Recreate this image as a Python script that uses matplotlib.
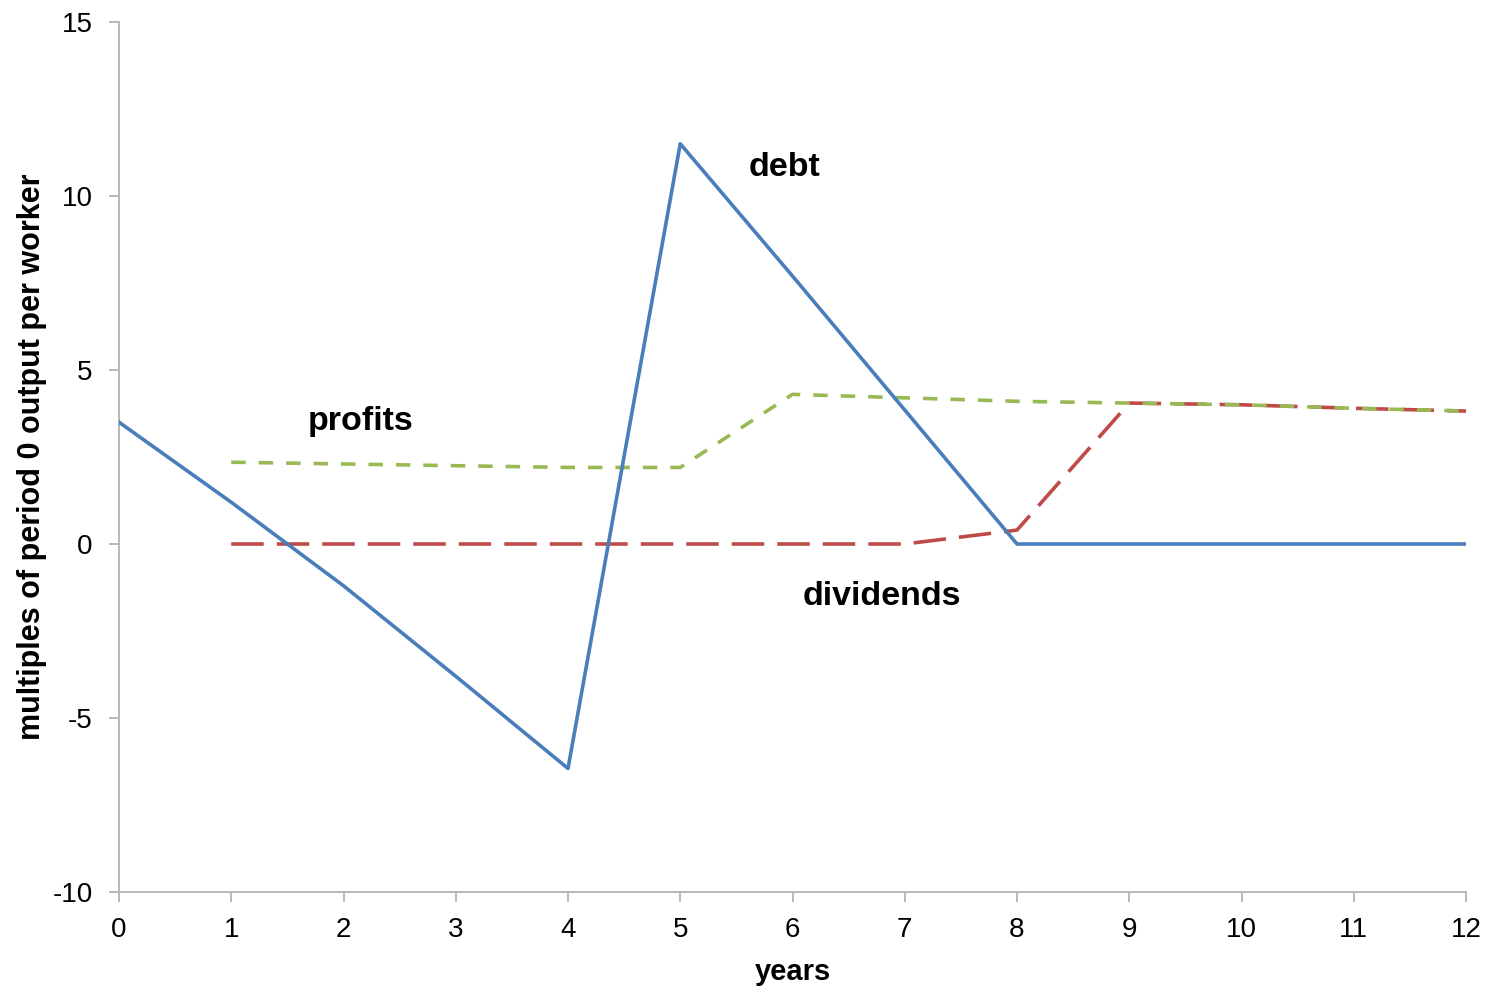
import matplotlib
matplotlib.use("Agg")
import matplotlib.pyplot as plt

plt.rcParams["font.family"] = ["Liberation Sans", "DejaVu Sans"]
plt.rcParams["axes.unicode_minus"] = False

years = list(range(13))
debt = [3.5, 1.2, -1.2, -3.8, -6.45, 11.5, 7.7, 3.85, 0.0, 0.0, 0.0, 0.0, 0.0]
profit_years = list(range(1, 13))
profits = [2.35, 2.3, 2.25, 2.2, 2.2, 4.3, 4.2, 4.1, 4.05, 4.0, 3.9, 3.82]
dividends = [0.0, 0.0, 0.0, 0.0, 0.0, 0.0, 0.0, 0.4, 4.05, 4.0, 3.9, 3.82]

fig = plt.figure(figsize=(14.91, 9.89), dpi=100)
ax = fig.add_axes([119 / 1491, 97 / 989, (1466 - 119) / 1491, (892 - 22) / 989])

ax.plot(years, debt, color="#4a7ebb", lw=2.6, zorder=3)
ax.plot(profit_years, dividends, color="#be4b48", lw=2.6, dashes=(9, 3.6), zorder=2)
ax.plot(profit_years, profits, color="#98b954", lw=2.6, dashes=(4, 3.6), zorder=2)

ax.set_xlim(0, 12)
ax.set_ylim(-10, 15)
ax.set_xticks(range(13))
ax.set_yticks(range(-10, 16, 5))

for side in ("top", "right"):
    ax.spines[side].set_visible(False)
for side in ("left", "bottom"):
    ax.spines[side].set_color("#b8b8b8")
    ax.spines[side].set_linewidth(1.4)
ax.tick_params(axis="both", colors="#b8b8b8", labelcolor="black", labelsize=20,
               length=7, width=1.4)
ax.tick_params(axis="x", pad=11)
ax.tick_params(axis="y", pad=12)

ax.set_xlabel("years", fontsize=21, fontweight="bold", labelpad=11)
ax.set_ylabel("multiples of period 0 output per worker", fontsize=22,
              fontweight="bold", labelpad=4)

# series labels placed by hand next to the lines
ax.text(5.93, 10.83, "debt", fontsize=24.5, fontweight="bold", ha="center", va="center")
ax.text(2.15, 3.51, "profits", fontsize=24.5, fontweight="bold", ha="center", va="center")
ax.text(6.8, -1.52, "dividends", fontsize=24.5, fontweight="bold", ha="center", va="center")

fig.savefig("out.png", dpi=100)
